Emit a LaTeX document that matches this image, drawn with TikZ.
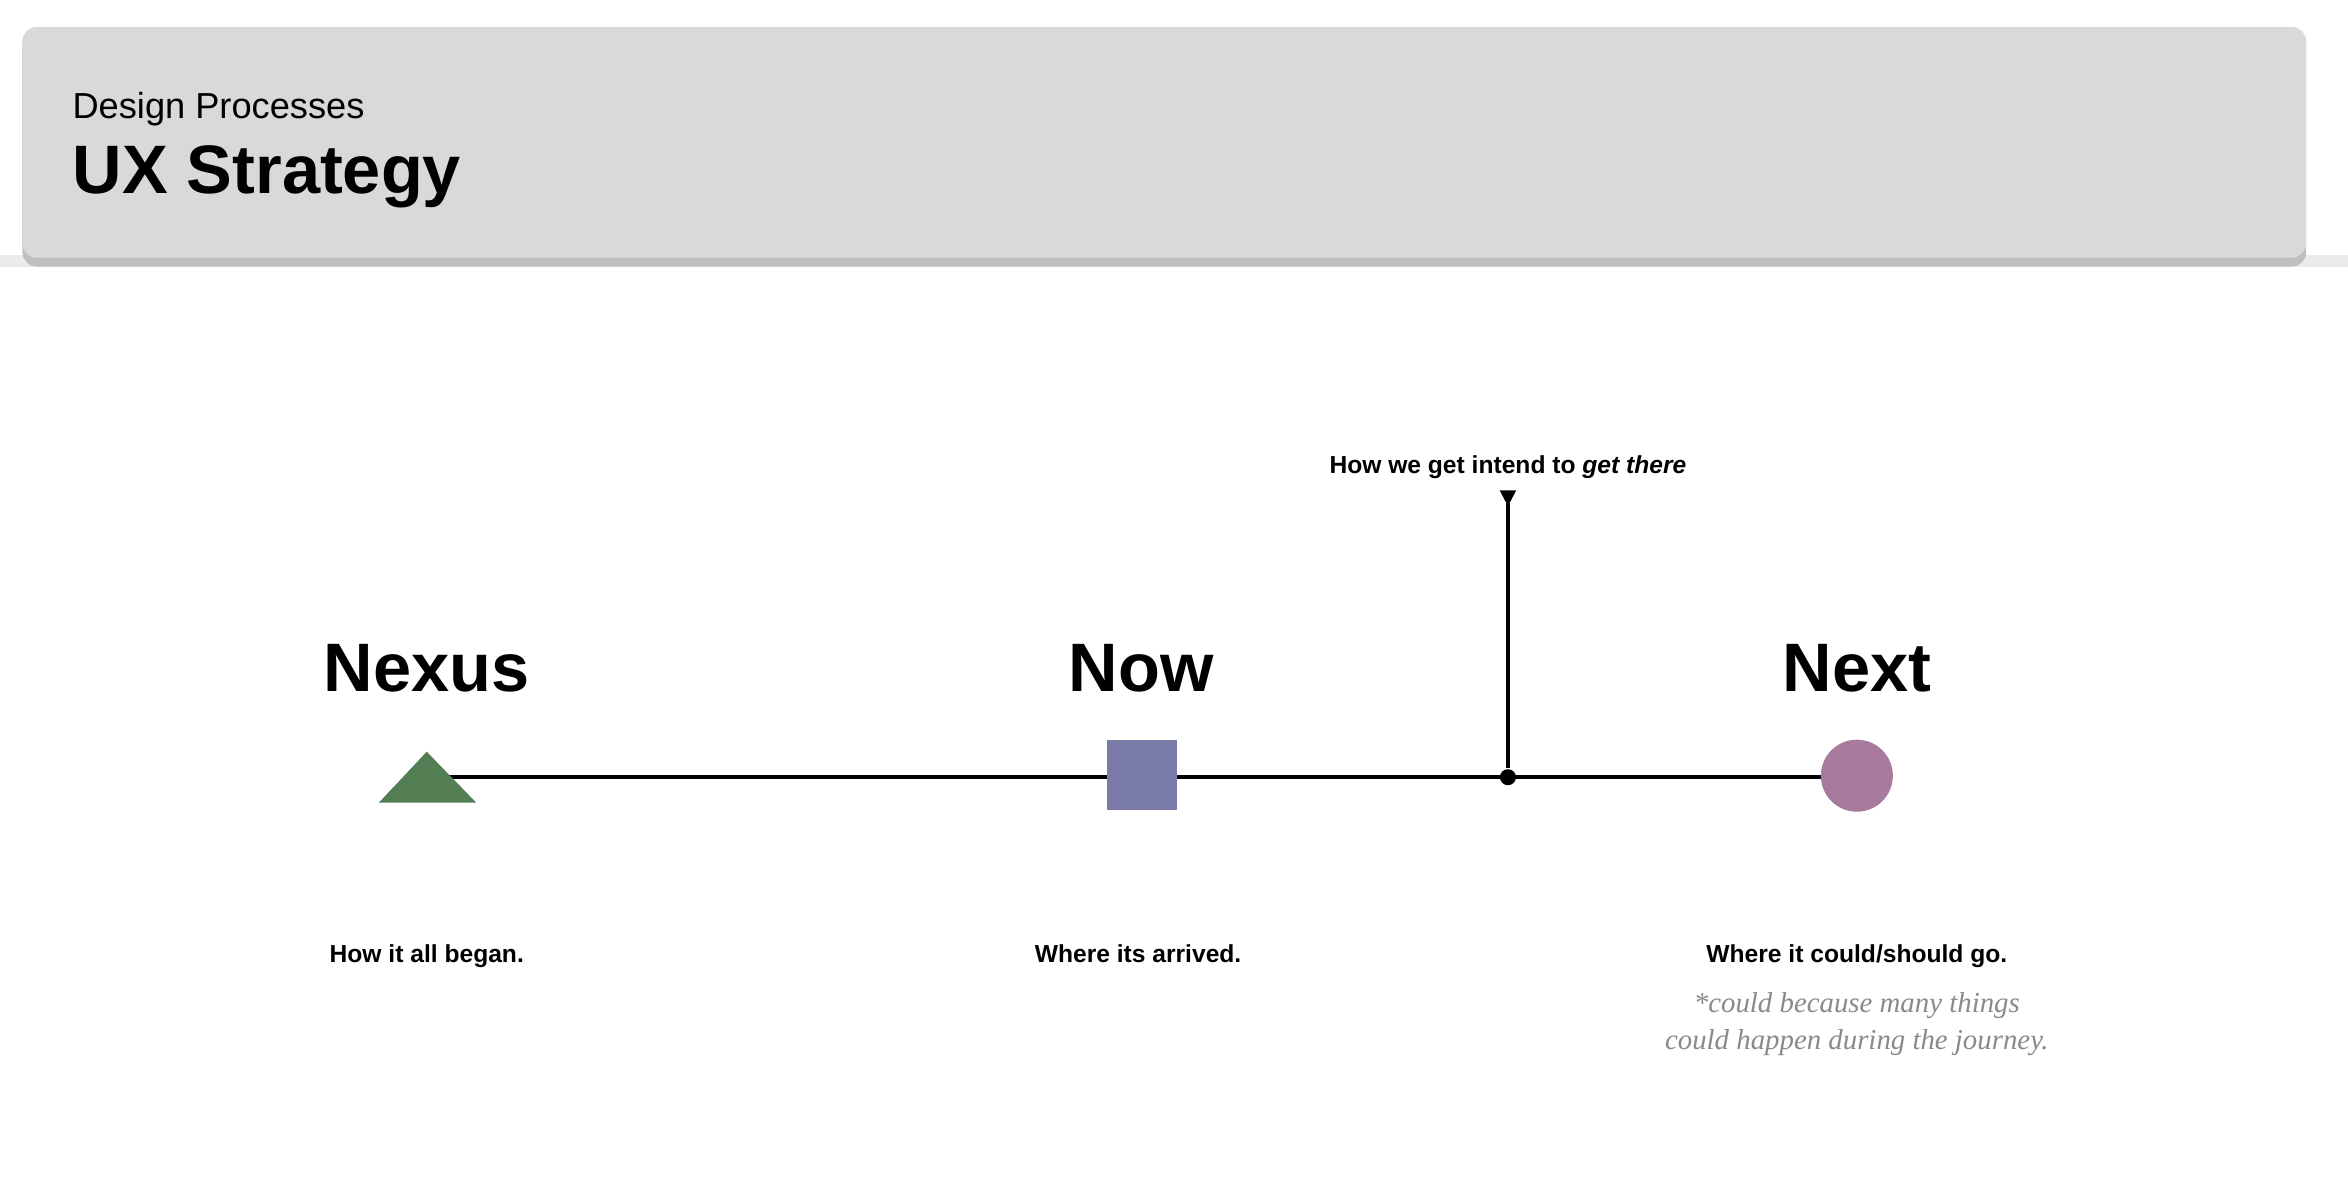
\documentclass[tikz,border=0pt]{standalone}
\usepackage{fontspec}
\setmainfont{Liberation Sans}
\newfontfamily\serifit{Liberation Serif}
\definecolor{hdr}{HTML}{D9D9D9}
\definecolor{tri}{HTML}{537D53}
\definecolor{sq}{HTML}{7B7BA8}
\definecolor{circ}{HTML}{A87B9E}
\definecolor{note}{HTML}{8A8A8A}
\begin{document}
\begin{tikzpicture}[x=0.014974cm,y=-0.014974cm,
  title/.style={font=\fontsize{19.5}{22}\selectfont\bfseries,anchor=center},
  captext/.style={font=\fontsize{7}{9}\selectfont\bfseries,anchor=base,inner sep=0},
  noteline/.style={font=\serifit\itshape\fontsize{8.2}{10.6}\selectfont,text=note,align=center}]
\useasboundingbox[fill=white] (0,0) rectangle (1568,804);
% header
\fill[black!8] (0,170) rectangle (1568,178);
\fill[black!25,rounded corners=4pt] (15,20) rectangle (1540,178);
\fill[hdr,rounded corners=4pt] (15,18) rectangle (1540,172);
\node[anchor=base west,inner sep=0,font=\fontsize{10.3}{12}\selectfont] (sub) at (48,79) {Design Processes};
\node[anchor=base west,inner sep=0,font=\fontsize{19.5}{22}\selectfont\bfseries] (main) at (48,129) {UX Strategy};
% timeline
\coordinate (a) at (285,519);
\coordinate (b) at (1240,519);
\draw[line width=1.1pt] (a) -- (b);
\fill[tri] (285,502) -- (318,536) -- (253,536) -- cycle;
\node[fill=sq,inner sep=0,minimum width=0.70cm,minimum height=0.70cm] (sqn) at (762.5,517.5) {};
\node[circle,fill=circ,minimum size=0.72cm,inner sep=0] (cn) at (1240,518) {};
\node[circle,fill=black,minimum size=0.16cm,inner sep=0] (dot) at (1007,519) {};
\coordinate (top) at (1007,336);
\draw[line width=1.1pt] (dot) -- (top);
\fill (1001.5,327.5) -- (1012.5,327.5) -- (1007,338) -- cycle;
\node[captext] (how) at (1007,316) {How we get intend to \textit{get there}};
% titles
\node[title] (nexus) at (285,446) {Nexus};
\node[title] (now) at (762,446) {Now};
\node[title] (next) at (1240,446) {Next};
% captions
\node[captext] (c1) at (285,643) {How it all began.};
\node[captext] (c2) at (760,643) {Where its arrived.};
\node[captext] (c3) at (1240,643) {Where it could/should go.};
\node[noteline] (n) at (1240,684) {*could because many things\\could happen during the journey.};
\end{tikzpicture}
\end{document}
